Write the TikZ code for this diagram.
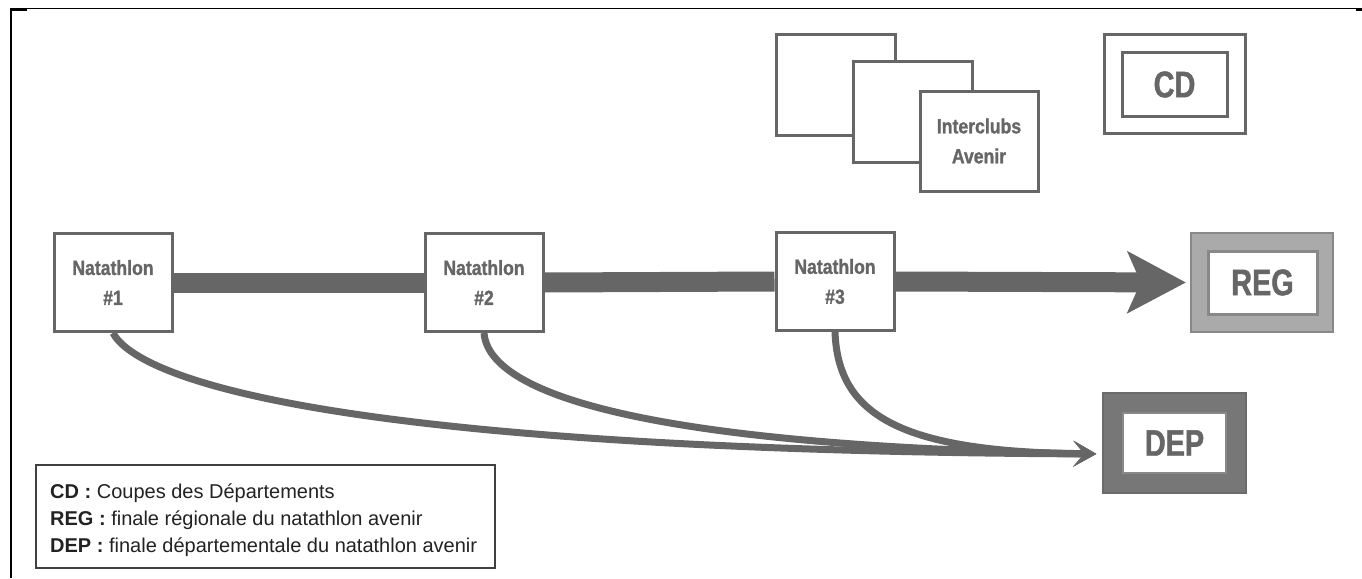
\documentclass[tikz,border=0pt]{standalone}
\usepackage{fontspec}
\setmainfont{Liberation Sans}
\newfontfamily\smallcond[FakeStretch=0.86, BoldFeatures={FakeBold=1.2}]{Liberation Sans}
\newfontfamily\bigcond[FakeStretch=0.78, BoldFeatures={FakeBold=1.2}]{Liberation Sans}
\usetikzlibrary{arrows.meta}
\definecolor{dg}{HTML}{666666}
\definecolor{mg}{HTML}{888888}
\definecolor{lg}{HTML}{AAAAAA}
\definecolor{depg}{HTML}{777777}
\definecolor{txt}{HTML}{222222}
\tikzset{
  stagebox/.style={draw=dg, line width=3pt, fill=white, minimum width=118pt, minimum height=98pt, inner sep=0pt,
    align=center, text=dg, font=\smallcond\bfseries\fontsize{20.5}{30}\selectfont},
  plainbox/.style={draw=dg, line width=3pt, fill=white, inner sep=0pt},
  bigtxt/.style={text=dg, font=\bigcond\bfseries\fontsize{37}{40}\selectfont},
  bar/.style={draw=dg, line width=20pt},
  feeder/.style={draw=dg, line width=7pt, -{Stealth[length=23pt,width=26pt,inset=11pt,line width=0pt]}, shorten >=6pt},
  legendbox/.style={draw=black!75, line width=1.5pt, minimum width=459pt, minimum height=103pt, inner sep=0pt},
}
\begin{document}
\begin{tikzpicture}[x=1pt,y=-1pt]
\useasboundingbox (0,0) rectangle (1362,578);
% page frame
\draw[line width=1.5pt] (11,578) -- (11,8.5) -- (1362,8.5);
\draw[line width=3pt] (10,9.5) -- (27,9.5);
\draw[line width=3pt] (1356,9.5) -- (1362,9.5);
% interclubs stack
\node[plainbox, minimum width=119pt, minimum height=101pt] (icA) at (835.5,85) {};
\node[plainbox, minimum width=119pt, minimum height=100pt] (icB) at (912.5,112) {};
\node[stagebox, minimum height=100pt] (icC) at (979,141) {Interclubs\\Avenir};
% CD
\node[plainbox, minimum width=141pt, minimum height=98pt] (cdout) at (1174.5,84) {};
\node[plainbox, minimum width=105pt, minimum height=63pt, bigtxt] (cd) at (1174.5,84.5) {CD};
% REG
\node[draw=mg, line width=2.5pt, fill=lg, minimum width=142pt, minimum height=99pt, inner sep=0pt] (regout) at (1262,282.5) {};
\node[draw=mg, line width=3pt, fill=white, minimum width=109pt, minimum height=63pt, inner sep=0pt, bigtxt] (reg) at (1262.5,282.5) {REG};
% DEP
\node[draw=depg!90!black, line width=1.5pt, fill=depg, minimum width=143pt, minimum height=100pt, inner sep=0pt] (depout) at (1174.5,443) {};
\node[draw=mg, line width=2pt, fill=white, minimum width=103pt, minimum height=60pt, inner sep=0pt, bigtxt] (dep) at (1174.5,443) {DEP};
% natathlons
\node[stagebox] (n1) at (113,282.5) {Natathlon\\\#1};
\node[stagebox] (n2) at (484,282.5) {Natathlon\\\#2};
\node[stagebox] (n3) at (835,281.5) {Natathlon\\\#3};
% main bar
\draw[bar] (n1.east) -- (n2.west);
\draw[bar] (n2.east) -- (n3.west);
\draw[bar, -{Stealth[length=59pt,width=63pt,inset=14pt,line width=0pt]}, shorten >=4pt] (n3.east) -- (regout.west);
% feeders to DEP
\coordinate (depin) at ([yshift=-11pt]depout.west);
\draw[feeder] (n1.south) .. controls (135,374) and (300,450) .. (depin);
\draw[feeder] (n2.south) .. controls (490,405) and (700,447) .. (depin);
\draw[feeder] (n3.south) .. controls (838,415) and (900,452) .. (depin);
% legend
\node[legendbox] (legend) at (265.5,516.5) {};
\node[anchor=west, align=left, inner sep=0pt, text=txt, font=\fontsize{20}{27}\selectfont] (legtext) at (50,520)
  {\textbf{CD :} Coupes des Départements\\
   \textbf{REG :} finale régionale du natathlon avenir\\
   \textbf{DEP :} finale départementale du natathlon avenir};
\end{tikzpicture}
\end{document}
